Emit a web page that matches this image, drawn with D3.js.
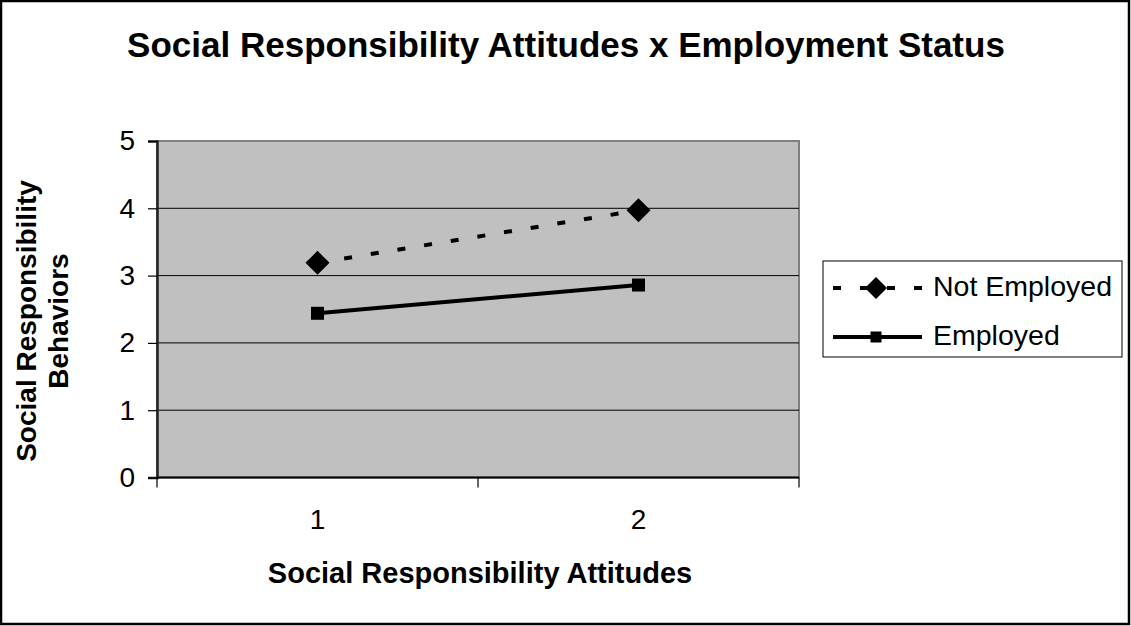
<!DOCTYPE html>
<html>
<head>
<meta charset="utf-8">
<script src="https://cdn.jsdelivr.net/npm/d3@7"></script>
<style>
  html, body { margin: 0; padding: 0; background: #fff; }
  svg { display: block; font-family: "Liberation Sans", Arial, sans-serif; }
</style>
</head>
<body>
<svg id="chart" width="1131" height="626"></svg>
<script>
// Chart data
const categories = [1, 2];
const notEmployed = [3.19, 3.97];
const employed = [2.44, 2.86];
const yTicks = [0, 1, 2, 3, 4, 5];
const seriesNames = ["Not Employed", "Employed"];
const chartTitle = "Social Responsibility Attitudes x Employment Status";
const xTitle = "Social Responsibility Attitudes";
const yTitleLines = ["Social Responsibility", "Behaviors"];

const svg = d3.select("#chart");
const W = 1131, H = 626;

// Outer frame
svg.append("rect")
  .attr("x", 1).attr("y", 1)
  .attr("width", W - 3).attr("height", H - 3)
  .attr("fill", "#fff").attr("stroke", "#000").attr("stroke-width", 2.5);

// Plot area geometry
const plot = { left: 157, right: 799, top: 141, bottom: 477.5 };

const x = d3.scaleBand()
  .domain(categories)
  .range([plot.left, plot.right])
  .paddingInner(0).paddingOuter(0);
const xc = d => x(d) + x.bandwidth() / 2;

const y = d3.scaleLinear()
  .domain([0, 5])
  .range([plot.bottom, plot.top]);

// Background
svg.append("rect")
  .attr("x", plot.left).attr("y", plot.top)
  .attr("width", plot.right - plot.left).attr("height", plot.bottom - plot.top)
  .attr("fill", "#c0c0c0")
  .attr("stroke", "#808080").attr("stroke-width", 2);

// Gridlines
svg.append("g")
  .selectAll("line")
  .data(yTicks.filter(t => t > 0 && t < 5))
  .join("line")
  .attr("x1", plot.left).attr("x2", plot.right)
  .attr("y1", d => y(d)).attr("y2", d => y(d))
  .attr("stroke", "#000").attr("stroke-width", 1);

// Y axis
const yAxis = svg.append("g")
  .attr("transform", `translate(${plot.left},0)`)
  .call(d3.axisLeft(y).tickValues(yTicks).tickSize(9).tickPadding(13).tickFormat(d3.format("d")));
yAxis.select(".domain").attr("stroke", "#222").attr("stroke-width", 2.5);
yAxis.selectAll(".tick line").attr("stroke", "#000").attr("stroke-width", 1.2);
yAxis.selectAll(".tick text")
  .attr("font-size", 28).attr("fill", "#000")
  .attr("font-family", "Liberation Sans, Arial, sans-serif");

// X axis with ticks on category boundaries
const xAxisG = svg.append("g").attr("transform", `translate(0,${plot.bottom})`);
xAxisG.append("line")
  .attr("x1", plot.left).attr("x2", plot.right)
  .attr("stroke", "#000").attr("stroke-width", 2);
const boundaries = [plot.left].concat(categories.map(c => x(c) + x.bandwidth()));
xAxisG.selectAll("line.tk")
  .data(boundaries)
  .join("line").attr("class", "tk")
  .attr("x1", d => d).attr("x2", d => d)
  .attr("y1", 0).attr("y2", 10)
  .attr("stroke", "#000").attr("stroke-width", 1.2);
xAxisG.selectAll("text")
  .data(categories)
  .join("text")
  .attr("x", d => xc(d)).attr("y", 51)
  .attr("text-anchor", "middle")
  .attr("font-size", 28).attr("fill", "#000")
  .text(d => d);

// Series lines
const line = d3.line().x((d, i) => xc(categories[i])).y(d => y(d));

svg.append("path")
  .datum(notEmployed)
  .attr("d", line)
  .attr("fill", "none").attr("stroke", "#000")
  .attr("stroke-width", 4).attr("stroke-dasharray", "8,19");

svg.append("path")
  .datum(employed)
  .attr("d", line)
  .attr("fill", "none").attr("stroke", "#000")
  .attr("stroke-width", 4);

// Markers
const diamond = (cx, cy, r) => `M${cx},${cy - r}L${cx + r},${cy}L${cx},${cy + r}L${cx - r},${cy}Z`;

svg.append("g").selectAll("path")
  .data(notEmployed)
  .join("path")
  .attr("d", (d, i) => diamond(xc(categories[i]), y(d), 12))
  .attr("fill", "#000");

svg.append("g").selectAll("rect")
  .data(employed)
  .join("rect")
  .attr("x", (d, i) => xc(categories[i]) - 6.5)
  .attr("y", d => y(d) - 6.5)
  .attr("width", 13).attr("height", 13)
  .attr("fill", "#000");

// Legend
const lg = svg.append("g");
lg.append("rect")
  .attr("x", 823).attr("y", 261).attr("width", 299).attr("height", 96)
  .attr("fill", "#fff").attr("stroke", "#000").attr("stroke-width", 1);

const legendRows = [
  { name: seriesNames[0], y: 288, dash: "8,19", marker: "diamond" },
  { name: seriesNames[1], y: 337, dash: null, marker: "square" }
];
legendRows.forEach(r => {
  lg.append("line")
    .attr("x1", 833).attr("x2", 922)
    .attr("y1", r.y).attr("y2", r.y)
    .attr("stroke", "#000").attr("stroke-width", 4)
    .attr("stroke-dasharray", r.dash);
  if (r.marker === "diamond") {
    lg.append("path").attr("d", diamond(876, r.y, 11)).attr("fill", "#000");
  } else {
    lg.append("rect").attr("x", 876 - 5.5).attr("y", r.y - 5.5)
      .attr("width", 11).attr("height", 11).attr("fill", "#000");
  }
  lg.append("text")
    .attr("x", 933).attr("y", r.y + 8)
    .attr("font-size", 28.5).attr("fill", "#000")
    .text(r.name);
});

// Titles
svg.append("text")
  .attr("x", 566).attr("y", 57)
  .attr("text-anchor", "middle")
  .attr("font-size", 35).attr("font-weight", "bold")
  .text(chartTitle);

svg.append("text")
  .attr("x", 480).attr("y", 583)
  .attr("text-anchor", "middle")
  .attr("font-size", 29).attr("font-weight", "bold")
  .text(xTitle);

const yt = svg.append("text")
  .attr("transform", "translate(0,321) rotate(-90)")
  .attr("text-anchor", "middle")
  .attr("font-size", 28).attr("font-weight", "bold");
yTitleLines.forEach((t, i) => {
  yt.append("tspan").attr("x", 0).attr("y", 36 + i * 32).text(t);
});
</script>
</body>
</html>
